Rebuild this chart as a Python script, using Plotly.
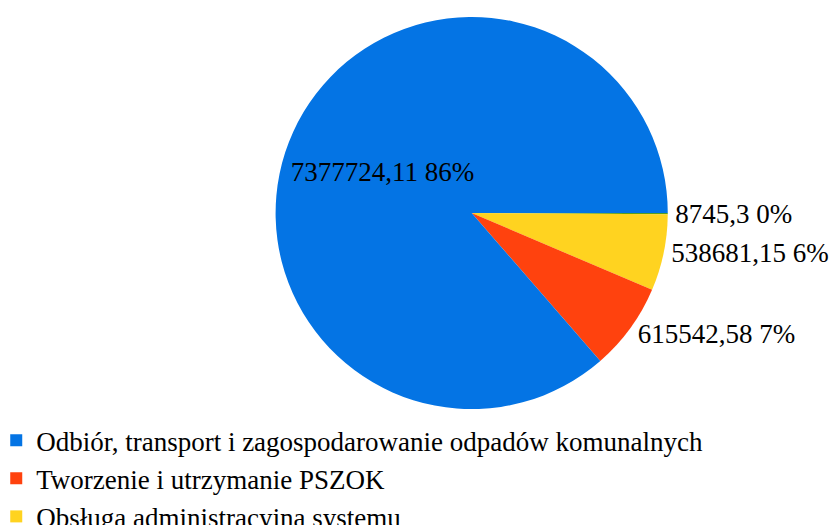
import plotly.graph_objects as go

categories = [
    "Odbiór, transport i zagospodarowanie odpadów komunalnych",
    "Tworzenie i utrzymanie PSZOK",
    "Obsługa administracyjna systemu",
    "Edukacja ekologiczna",
]
values = [7377724.11, 615542.58, 538681.15, 8745.3]
value_labels = ["7377724,11", "615542,58", "538681,15", "8745,3"]
colors = ["#0474e4", "#ff420e", "#ffd320", "#579d1c"]
text_positions = ["inside", "outside", "outside", "outside"]

# slices run counter-clockwise from 3 o'clock: drawn clockwise in reverse order
rev = slice(None, None, -1)

fig = go.Figure(go.Pie(
    labels=categories[rev],
    values=values[rev],
    customdata=value_labels[rev],
    texttemplate="%{customdata} %{percent:.0%}",
    textposition=text_positions[rev],
    insidetextorientation="horizontal",
    sort=False,
    direction="clockwise",
    rotation=90,
    marker=dict(colors=colors[rev], line=dict(width=0)),
    textfont=dict(family="Liberation Serif", size=27, color="black"),
    domain=dict(x=[0.252, 0.852], y=[0.236, 0.983]),
    hoverinfo="label+value+percent",
))

fig.update_layout(
    width=840, height=525,
    margin=dict(l=0, r=0, t=0, b=0, autoexpand=False),
    paper_bgcolor="white",
    plot_bgcolor="white",
    font=dict(family="Liberation Serif", size=27, color="black"),
    legend=dict(
        orientation="v",
        traceorder="reversed",
        x=-0.014, xanchor="left",
        y=0.2226, yanchor="top",
        font=dict(family="Liberation Serif", size=27, color="black"),
        itemsizing="constant",
        tracegroupgap=0,
    ),
    showlegend=True,
)

fig.write_html("out.html")
